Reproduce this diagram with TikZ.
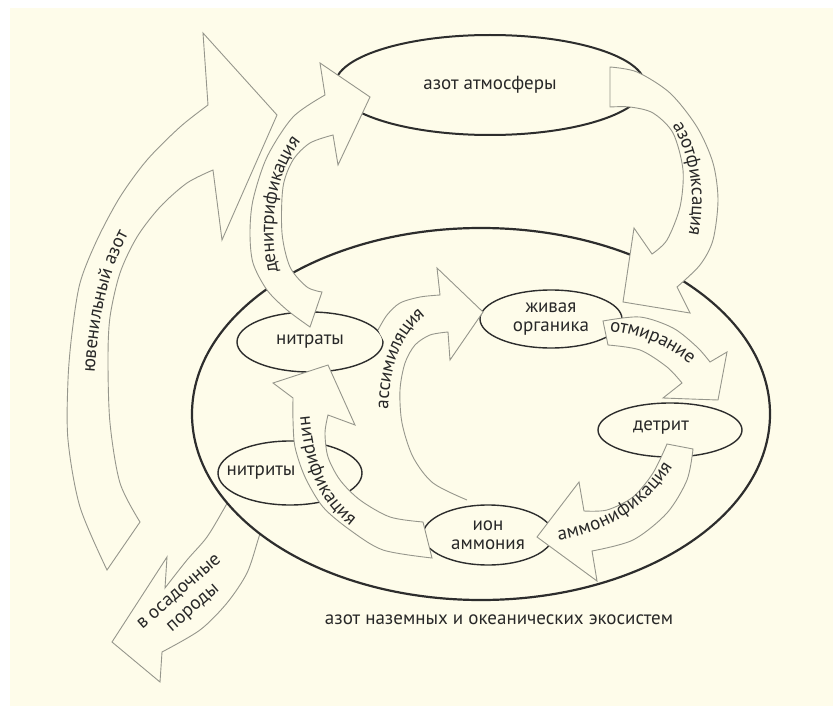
\documentclass[tikz,border=0pt]{standalone}
\usepackage{fontspec}
\setmainfont{PT Sans}
\usetikzlibrary{shapes.geometric,decorations.text,positioning}

\definecolor{bgcream}{RGB}{254,252,234}
\definecolor{arrowgray}{RGB}{150,150,140}
\definecolor{edgegray}{RGB}{45,45,45}
\definecolor{txtgray}{RGB}{40,40,40}
\newcommand{\cyclefont}{\fontsize{19}{23}\selectfont}

\begin{document}
\begin{tikzpicture}[
        x = 1pt, y = -1pt,
        cell/.style = {
            draw = edgegray, line width = 1.4pt,
            ellipse, fill = bgcream,
            inner sep = 0pt,
            text = txtgray,
            font = \cyclefont,
            align = center,
        },
        fat/.style = {
            draw = arrowgray, line width = 0.9pt,
            fill = bgcream, line join = miter,
        },
        along/.style = {
            decorate,
            decoration = {text along path, text = {|\cyclefont|#1},
                text color = txtgray, text align = center, raise = -4.6pt},
        },
    ]
    \useasboundingbox (0, 0) rectangle (833, 706);
    \fill[white] (0, 0) rectangle (833, 706);
    \fill[bgcream] (10, 8) rectangle (833, 706);

    % juvenile nitrogen and sediments
    \draw[fat] plot[smooth] coordinates {(107,570) (80,507) (68,440) (68,380) (72,333)
            (80,283) (97,240) (120,197) (147,160) (180,127) (208,105)}
        -- (203,33) -- (277,115) -- (222,240)
        -- plot[smooth] coordinates {(213,170) (187,183) (160,207) (137,237) (120,273)
            (110,317) (108,360) (110,423) (120,483) (140,522)} -- cycle;
    \draw[fat] plot[smooth] coordinates {(230,498) (225,507) (207,537) (187,560) (165,588)}
        -- (167,557) -- (112,642) -- (160,682)
        -- plot[smooth] coordinates {(162,652) (200,630) (227,603) (247,573) (258,540) (261,530)};

    \node[cell, line width=2.2pt, minimum width=578, minimum height=372] (eco) at (481, 414) {};
    \node[cell, line width=2pt, minimum width=310, minimum height=100] (atm) at (490, 85) {азот атмосферы};

    \node[cell, minimum width=146, minimum height=60] (nitraty) at (310, 342) {нитраты};
    \node[cell, minimum width=144, minimum height=64,
        label={[font=\cyclefont, text=txtgray, xshift=-29]center:нитриты}] (nitrity) at (290, 473) {};
    \node[cell, minimum width=142, minimum height=58] (organika) at (551, 319) {живая\\[-4pt]органика};
    \node[cell, minimum width=144, minimum height=54,
        label={[font=\cyclefont, text=txtgray, xshift=-9, yshift=2]center:детрит}] (detrit) at (670, 430) {};
    \node[cell, minimum width=130, minimum height=60] (ammoniy) at (488, 535) {ион\\[-4pt]аммония};

    % flows between pools
    \draw[fat] plot[smooth] coordinates {(310,327) (287,310) (267,290) (253,263) (250,233)
            (253,200) (267,157) (293,117) (325,95)}
        -- (320,63) -- (370,97) -- (338,165)
        -- plot[smooth] coordinates {(333,135) (310,143) (293,160) (283,187) (282,233)
            (290,267) (307,287) (322,292)} -- cycle;
    \draw[fat] (610,107) -- plot[smooth] coordinates {(610,67) (637,72) (670,93) (697,127)
            (713,163) (718,200) (713,240) (700,265) (677,287)}
        -- (690,313) -- (623,302) -- (634,228)
        -- plot[smooth] coordinates {(652,254) (667,240) (680,207) (683,170) (673,133)
            (653,113) (630,107) (610,107)} -- cycle;
    \draw[fat] plot[smooth] coordinates {(378,330) (387,315) (400,303) (420,297) (440,295)}
        -- (437,268) -- (483,312) -- (450,360)
        -- plot[smooth] coordinates {(448,332) (430,335) (415,345) (405,363) (400,390)
            (402,423) (413,457) (433,483) (467,500)};
    \draw[fat] plot[smooth] coordinates {(603,321) (640,317) (673,328) (697,347) (710,362)}
        -- (727,352) -- (718,400) -- (663,398)
        -- plot[smooth] coordinates {(682,383) (667,367) (640,350) (608,345)} -- cycle;
    \draw[fat] (667,444) -- plot[smooth] coordinates {(693,449) (687,480) (667,513) (633,540) (592,551)}
        -- (597,581) -- (537,537) -- (579,482)
        -- plot[smooth] coordinates {(584,511) (607,510) (633,497) (653,473) (667,444)} -- cycle;
    \draw[fat] (423,522) -- plot[smooth] coordinates {(432,558) (383,550) (350,530) (323,507)
            (305,477) (295,447) (293,420) (293,398)}
        -- (273,383) -- (328,365) -- (355,425)
        -- plot[smooth] coordinates {(328,415) (325,433) (328,457) (340,480) (360,500)
            (390,517) (423,522)} -- cycle;

    % labels on the flows
    \path[along=ювенильный азот] (89,440) .. controls (87,330) and (100,240) .. (165,178);
    \path[along=денитрификация] (285,300) .. controls (258,260) and (262,150) .. (320,120);
    \path[along=азотфиксация] (625,85) .. controls (705,100) and (720,250) .. (660,290);
    \path[along=ассимиляция] (384,440) .. controls (380,370) and (395,315) .. (450,298);
    \path[along=отмирание] (575,326) .. controls (630,322) and (680,340) .. (718,385);
    \path[along=аммонификация] (520,538) .. controls (600,540) and (660,500) .. (685,430);
    \path[along=нитрификация] (303,380) .. controls (304,470) and (325,515) .. (385,540);

    \node[font=\cyclefont, text=txtgray, align=center, rotate=41] (osadki) at (187, 601)
        {в осадочные\\[-2pt]породы};
    \node[font=\cyclefont, text=txtgray] (ecolbl) at (499, 620)
        {азот наземных и океанических экосистем};
\end{tikzpicture}
\end{document}
